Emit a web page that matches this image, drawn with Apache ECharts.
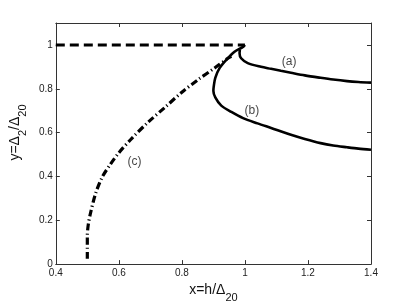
<!DOCTYPE html>
<html><head><meta charset="utf-8">
<script src="https://cdn.jsdelivr.net/npm/echarts@6/dist/echarts.min.js"></script>
<style>html,body{margin:0;padding:0;background:#fff}#c{width:409px;height:308px}</style>
</head><body><div id="c"></div>
<script>
// Curve (a) dashed part: y = 1 for x in [0.4, 1]
const dashX = [0.4, 1.0];
const dashY = [1.0, 1.0];
// Curve (a) solid branch
const aX = [0.984, 0.983, 0.988, 1.009, 1.051, 1.083, 1.114, 1.146, 1.19, 1.24, 1.28, 1.324, 1.36, 1.4];
const aY = [0.98, 0.962, 0.939, 0.917, 0.900, 0.891, 0.882, 0.873, 0.861, 0.850, 0.842, 0.835, 0.831, 0.828];
// Curve (b) solid
const bX = [1.0, 0.994, 0.967, 0.941, 0.92, 0.906, 0.901, 0.9, 0.906, 0.925, 0.957, 0.994, 1.04, 1.083, 1.146, 1.19, 1.24, 1.28, 1.324, 1.36, 1.4];
const bY = [1.0, 0.991, 0.969, 0.932, 0.895, 0.85, 0.81, 0.79, 0.761, 0.723, 0.694, 0.666, 0.642, 0.621, 0.590, 0.571, 0.552, 0.541, 0.533, 0.527, 0.522];
// Curve (c) dash-dot
const cX = [0.5, 0.5, 0.503, 0.51, 0.526, 0.547, 0.573, 0.6, 0.642, 0.694, 0.747, 0.799, 0.852, 0.904, 0.946, 0.957];
const cY = [0.024, 0.128, 0.18, 0.232, 0.321, 0.396, 0.455, 0.508, 0.575, 0.649, 0.716, 0.783, 0.842, 0.895, 0.939, 0.948];
// Curve labels
const labelText = ['(a)', '(b)', '(c)'];
const labelX = [1.14, 1.022, 0.65];
const labelY = [0.924, 0.701, 0.467];
// Axis ticks
const xMin = 0.4, xMax = 1.4, xStep = 0.2;
const yMin = 0, yMax = 1.1, yStep = 0.2;

const pairs = (xs, ys) => xs.map((x, i) => [x, ys[i]]);
const font = 'Liberation Sans, Arial, sans-serif';
const axCol = '#333';
const baseAxis = {
  type: 'value', splitLine: {show: false},
  axisLine: {show: true, onZero: false, lineStyle: {color: axCol, width: 1}},
  axisTick: {show: true, inside: true, length: 4, lineStyle: {color: axCol}},
};
const chart = echarts.init(document.getElementById('c'));
chart.setOption({
  backgroundColor: '#fff',
  animation: false,
  grid: {left: 53, right: 38, top: 23, bottom: 39},
  xAxis: [
    Object.assign({}, baseAxis, {min: xMin, max: xMax, interval: xStep, position: 'bottom',
      axisLabel: {color: '#222', fontSize: 10, fontFamily: font, margin: 4},
      name: '{m|x=h/\u0394}{s|20}', nameLocation: 'middle', nameGap: 15,
      nameTextStyle: {rich: {
        m: {fontSize: 14, fontFamily: font, color: '#111', lineHeight: 18, verticalAlign: 'top'},
        s: {fontSize: 11, fontFamily: font, color: '#111', lineHeight: 11, padding: [9, 0, 0, 0], verticalAlign: 'top'}
      }}}),
    Object.assign({}, baseAxis, {min: xMin, max: xMax, interval: xStep, position: 'top', axisLabel: {show: false}})
  ],
  yAxis: [
    Object.assign({}, baseAxis, {min: yMin, max: yMax, interval: yStep, position: 'left',
      axisLabel: {color: '#222', fontSize: 10, fontFamily: font, margin: 3, showMaxLabel: false,
        formatter: v => (v > 1.05 ? '' : String(+v.toFixed(1)))},
      name: '{m|y=\u0394}{s|2}{m|/\u0394}{s|20}', nameLocation: 'middle', nameGap: 22, nameRotate: 90,
      nameTextStyle: {padding: [0, 0, 0, 22], rich: {
        m: {fontSize: 14, fontFamily: font, color: '#111', lineHeight: 18, verticalAlign: 'top'},
        s: {fontSize: 11, fontFamily: font, color: '#111', lineHeight: 11, padding: [9, 0, 0, 0], verticalAlign: 'top'}
      }}}),
    Object.assign({}, baseAxis, {min: yMin, max: yMax, interval: yStep, position: 'right', axisLabel: {show: false}})
  ],
  series: [
    {type: 'line', data: pairs(dashX, dashY), showSymbol: false, symbol: 'none',
      lineStyle: {color: '#000', width: 3, type: [9, 5]}},
    {type: 'line', data: pairs(aX, aY), showSymbol: false, symbol: 'none', smooth: 0.3,
      lineStyle: {color: '#000', width: 2.6}},
    {type: 'line', data: pairs(bX, bY), showSymbol: false, symbol: 'none', smooth: 0.3,
      lineStyle: {color: '#000', width: 2.6}},
    {type: 'line', data: pairs(cX, cY), showSymbol: false, symbol: 'none', smooth: 0.3,
      lineStyle: {color: '#000', width: 3.2, type: [7, 3, 1.2, 3]}},
    {type: 'scatter', symbolSize: 0, silent: true,
      data: labelText.map((t, i) => ({value: [labelX[i], labelY[i]], name: t})),
      label: {show: true, position: 'inside', formatter: p => p.name, color: '#111', fontSize: 12, fontFamily: font}}
  ]
});
</script></body></html>
